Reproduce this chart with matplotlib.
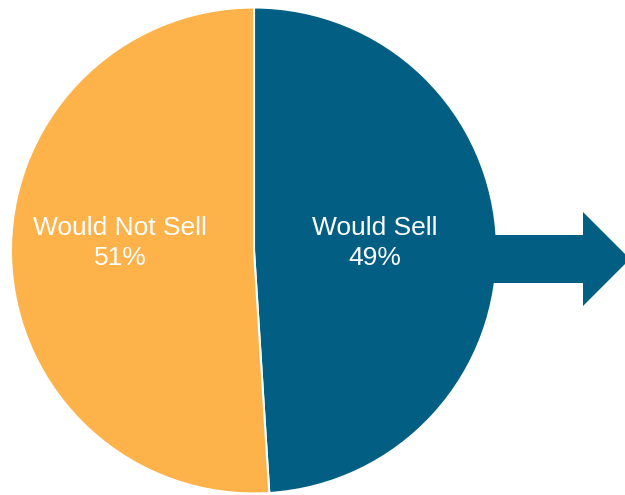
import matplotlib.pyplot as plt
from matplotlib.patches import Polygon

labels = ['Would Sell', 'Would Not Sell']
shares = [49, 51]
colors = ['#025E82', '#FDB24A']

W, H = 625, 495

fig = plt.figure(figsize=(W / 100, H / 100), dpi=100)
ax = fig.add_axes([0, 0, 1, 1])

cx, cy, r = 254, H - 250.5, 243
ax.pie(shares, colors=colors, startangle=90, counterclock=False,
       center=(cx, cy), radius=r, frame=True,
       wedgeprops=dict(edgecolor='white', linewidth=1.5))
ax.set_xlim(0, W)
ax.set_ylim(0, H)
ax.set_aspect('equal')
ax.axis('off')

# block arrow coming out of the "sell" half
arrow = [(470, 235), (583, 235), (583, 212), (630, 259),
         (583, 306), (583, 283), (470, 283)]
ax.add_patch(Polygon([(x, H - y) for x, y in arrow], closed=True,
                     facecolor=colors[0], edgecolor='none', zorder=3))

label_pos = [(375, 243), (120, 243)]
for lab, val, (x, y) in zip(labels, shares, label_pos):
    ax.text(x, H - y, f'{lab}\n{val}%', ha='center', va='center',
            color='white', fontsize=19, family='Liberation Sans',
            linespacing=1.27, zorder=4)

fig.savefig('out.png', dpi=100)
